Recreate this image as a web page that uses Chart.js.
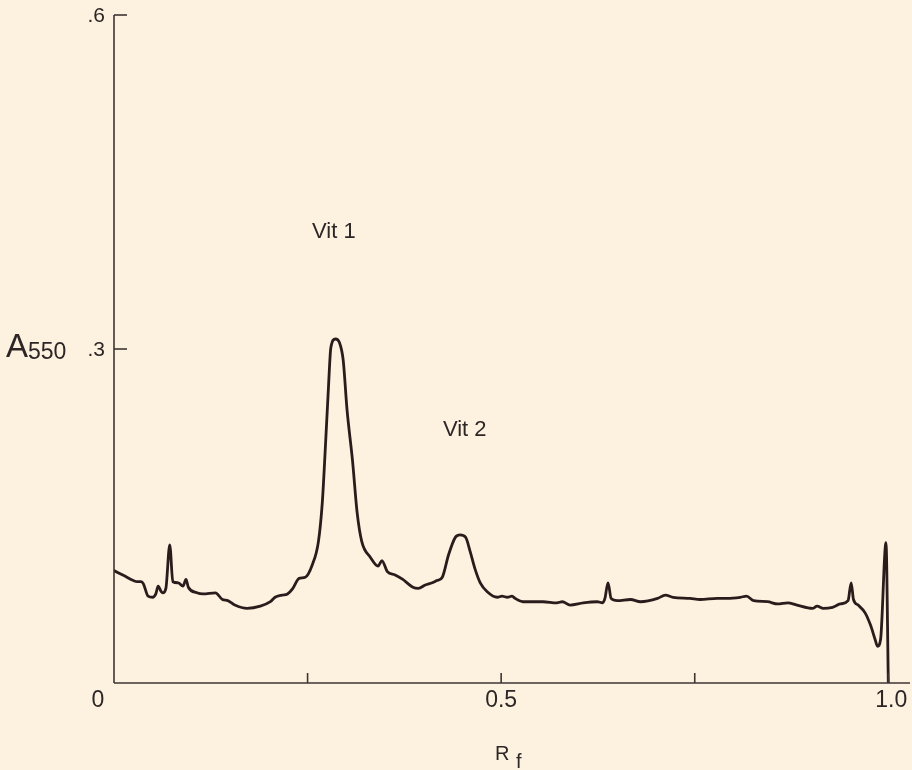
<!DOCTYPE html>
<html>
<head>
<meta charset="utf-8">
<script src="https://cdn.jsdelivr.net/npm/chart.js@4/dist/chart.umd.min.js"></script>
<style>
  html, body { margin: 0; padding: 0; background: #fcf2df; }
  canvas { display: block; }
</style>
</head>
<body>
<canvas id="c" width="912" height="770"></canvas>
<script>
// Rf positions along the strip
const rf = [0.000,0.014,0.025,0.030,0.035,0.038,0.044,0.050,0.054,0.057,0.061,0.063,0.067,0.072,0.076,0.083,0.089,0.093,0.096,0.107,0.115,0.131,0.140,0.147,0.156,0.172,0.189,0.202,0.208,0.217,0.224,0.231,0.239,0.247,0.256,0.264,0.269,0.273,0.277,0.280,0.286,0.291,0.296,0.301,0.308,0.314,0.320,0.331,0.341,0.346,0.353,0.363,0.373,0.386,0.393,0.402,0.411,0.417,0.424,0.432,0.441,0.447,0.454,0.460,0.466,0.473,0.482,0.495,0.501,0.508,0.514,0.518,0.528,0.554,0.572,0.579,0.589,0.606,0.624,0.631,0.634,0.638,0.642,0.650,0.667,0.680,0.702,0.712,0.722,0.744,0.757,0.779,0.792,0.809,0.817,0.826,0.844,0.857,0.870,0.882,0.902,0.908,0.916,0.928,0.938,0.948,0.952,0.955,0.961,0.970,0.977,0.983,0.986,0.990,0.997,1.000];
// Absorbance at 550 nm
const a550 = [0.101,0.096,0.092,0.091,0.091,0.089,0.078,0.077,0.080,0.087,0.082,0.081,0.085,0.124,0.091,0.090,0.087,0.093,0.086,0.081,0.080,0.081,0.075,0.074,0.070,0.067,0.069,0.073,0.077,0.079,0.080,0.085,0.094,0.095,0.106,0.127,0.162,0.212,0.266,0.301,0.309,0.306,0.290,0.245,0.200,0.153,0.127,0.113,0.105,0.110,0.100,0.097,0.093,0.086,0.085,0.088,0.090,0.092,0.095,0.115,0.131,0.133,0.131,0.118,0.103,0.090,0.082,0.077,0.078,0.077,0.078,0.076,0.073,0.073,0.072,0.073,0.070,0.072,0.073,0.072,0.076,0.090,0.076,0.074,0.075,0.073,0.076,0.079,0.077,0.076,0.075,0.076,0.076,0.077,0.078,0.074,0.073,0.071,0.072,0.070,0.067,0.069,0.067,0.068,0.071,0.074,0.090,0.075,0.070,0.063,0.052,0.039,0.033,0.039,0.126,0.000];

const xTicks = [0, 0.25, 0.5, 0.75, 1.0];
const xTickLabels = ["0", "", "0.5", "", "1.0"];
const yTicks = [0.3, 0.6];
const yTickLabels = [".3", ".6"];
const peakLabels = ["Vit 1", "Vit 2"];
const peakLabelPos = [[0.284, 0.405], [0.453, 0.227]];

const points = rf.map((x, i) => ({ x: x, y: a550[i] }));

const ink = '#2a1c1c';
const axisInk = '#3e3434';

const decor = {
  id: 'decor',
  beforeDraw(chart) {
    const ctx = chart.ctx;
    ctx.save();
    ctx.fillStyle = '#fcf2df';
    ctx.fillRect(0, 0, chart.width, chart.height);
    ctx.restore();
  },
  afterDatasetsDraw(chart) {
    const ctx = chart.ctx;
    const xs = chart.scales.x, ys = chart.scales.y;
    const x0 = xs.getPixelForValue(0);
    const y0 = ys.getPixelForValue(0);
    const yTop = ys.getPixelForValue(0.6);
    ctx.save();
    ctx.strokeStyle = axisInk;
    ctx.lineWidth = 1.6;
    ctx.beginPath();
    ctx.moveTo(x0, y0);
    ctx.lineTo(x0, yTop);
    ctx.stroke();
    ctx.beginPath();
    ctx.moveTo(x0, y0);
    ctx.lineTo(xs.right, y0);
    ctx.stroke();
    yTicks.forEach(v => {
      const py = ys.getPixelForValue(v);
      ctx.beginPath();
      ctx.moveTo(x0, py);
      ctx.lineTo(x0 + 13, py);
      ctx.stroke();
    });
    xTicks.forEach(v => {
      if (v === 0) return;
      const px = xs.getPixelForValue(v);
      ctx.beginPath();
      ctx.moveTo(px, y0);
      ctx.lineTo(px, y0 - 10);
      ctx.stroke();
    });
    ctx.fillStyle = '#2e2626';
    ctx.textBaseline = 'middle';
    ctx.font = '21px "Liberation Sans", Arial, sans-serif';
    ctx.textAlign = 'right';
    yTicks.forEach((v, i) => {
      ctx.fillText(yTickLabels[i], x0 - 9, ys.getPixelForValue(v) + 1);
    });
    ctx.font = '23px "Liberation Sans", Arial, sans-serif';
    ctx.textAlign = 'center';
    xTicks.forEach((v, i) => {
      if (!xTickLabels[i]) return;
      let px = xs.getPixelForValue(v);
      if (v === 0) px -= 16;
      if (v === 1.0) px += 3;
      ctx.fillText(xTickLabels[i], px, y0 + 18);
    });
    ctx.textAlign = 'left';
    ctx.textBaseline = 'alphabetic';
    ctx.font = '33px "Liberation Sans", Arial, sans-serif';
    const yMid = ys.getPixelForValue(0.3);
    ctx.fillText('A', 6, yMid + 8);
    ctx.font = '23px "Liberation Sans", Arial, sans-serif';
    ctx.fillText('550', 28, yMid + 10);
    ctx.font = '20px "Liberation Sans", Arial, sans-serif';
    ctx.fillText('R', 495, 760);
    ctx.fillText('f', 516, 768);
    ctx.font = '22px "Liberation Sans", Arial, sans-serif';
    ctx.textAlign = 'center';
    ctx.textBaseline = 'middle';
    peakLabels.forEach((t, i) => {
      ctx.fillText(t, xs.getPixelForValue(peakLabelPos[i][0]), ys.getPixelForValue(peakLabelPos[i][1]));
    });
    ctx.restore();
  }
};

new Chart(document.getElementById('c'), {
  type: 'line',
  data: {
    datasets: [{
      data: points,
      borderColor: ink,
      borderWidth: 2.8,
      pointRadius: 0,
      cubicInterpolationMode: 'monotone',
      fill: false,
      borderJoinStyle: 'round',
      borderCapStyle: 'round'
    }]
  },
  options: {
    responsive: false,
    animation: false,
    devicePixelRatio: 1,
    layout: { padding: { left: 114, top: 15, right: 2, bottom: 87 } },
    plugins: { legend: { display: false }, tooltip: { enabled: false } },
    scales: {
      x: { type: 'linear', min: 0, max: 1.028, display: false },
      y: { type: 'linear', min: 0, max: 0.6, display: false }
    }
  },
  plugins: [decor]
});
</script>
</body>
</html>
